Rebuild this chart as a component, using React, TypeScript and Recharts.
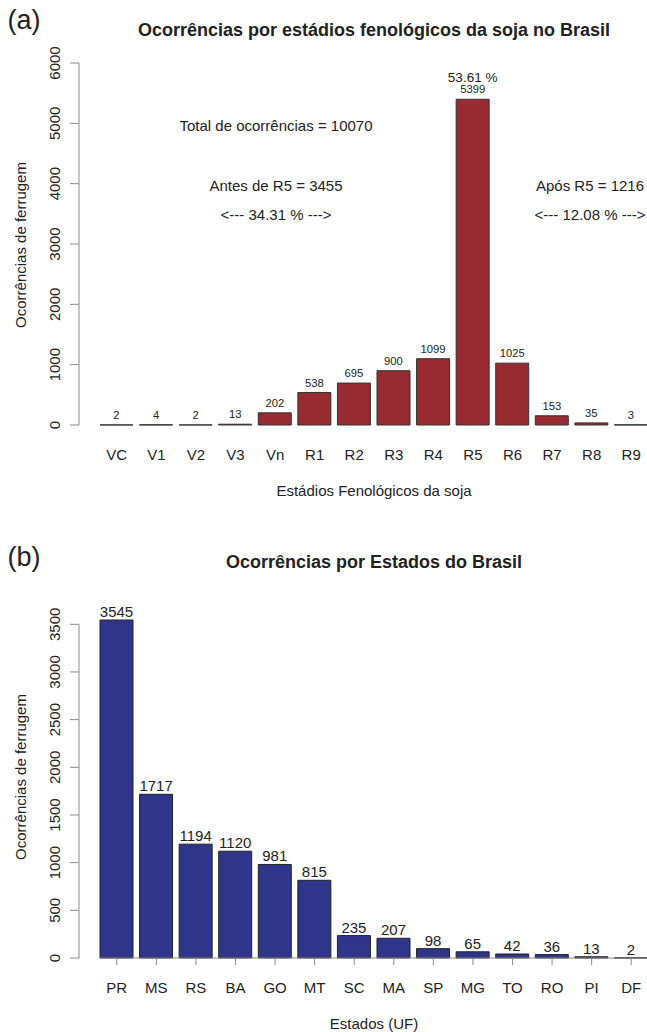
import React from "react";
import { BarChart, Bar, XAxis, YAxis, LabelList } from "recharts";

// (a) ocorrências por estádio fenológico
const STAGES = ["VC", "V1", "V2", "V3", "Vn", "R1", "R2", "R3", "R4", "R5", "R6", "R7", "R8", "R9"];
const STAGE_COUNTS = [2, 4, 2, 13, 202, 538, 695, 900, 1099, 5399, 1025, 153, 35, 3];
const STAGE_TICKS = [0, 1000, 2000, 3000, 4000, 5000, 6000];

// (b) ocorrências por estado
const STATES = ["PR", "MS", "RS", "BA", "GO", "MT", "SC", "MA", "SP", "MG", "TO", "RO", "PI", "DF"];
const STATE_COUNTS = [3545, 1717, 1194, 1120, 981, 815, 235, 207, 98, 65, 42, 36, 13, 2];
const STATE_TICKS = [0, 500, 1000, 1500, 2000, 2500, 3000, 3500];

const RED = "#982a31";
const BLUE = "#2f358b";
const AXIS = "#8a8a8a";
const INK = "#222";
const FONT = "'Liberation Sans', Arial, Helvetica, sans-serif";

const stageData = STAGES.map((name, i) => ({ name, value: STAGE_COUNTS[i] }));
const stateData = STATES.map((name, i) => ({ name, value: STATE_COUNTS[i] }));

const sum = (a: number[]) => a.reduce((s, v) => s + v, 0);
const total = sum(STAGE_COUNTS);
const peak = STAGE_COUNTS.indexOf(Math.max(...STAGE_COUNTS));
const before = sum(STAGE_COUNTS.slice(0, peak));
const after = sum(STAGE_COUNTS.slice(peak + 1));
const pct = (v: number) => ((v / total) * 100).toFixed(2);

function YTick({ x, y, payload }: any) {
  return (
    <text
      transform={`translate(${x - 9.6},${y}) rotate(-90)`}
      textAnchor="middle"
      fontSize={15}
      fill={INK}
      fontFamily={FONT}
    >
      {payload.value}
    </text>
  );
}

const makeXTick = (dy: number) =>
  function XTick({ x, y, payload }: any) {
    return (
      <text x={x} y={y + dy} textAnchor="middle" fontSize={15} fill={INK} fontFamily={FONT}>
        {payload.value}
      </text>
    );
  };

function StageLabel({ x, y, width, value, index }: any) {
  const cx = x + width / 2;
  return (
    <g>
      <text x={cx} y={y - 6} textAnchor="middle" fontSize={11.25} fill={INK} fontFamily={FONT}>
        {value}
      </text>
      {index === peak && (
        <text x={cx} y={y - 17} textAnchor="middle" fontSize={13.5} fill={INK} fontFamily={FONT}>
          {`${pct(STAGE_COUNTS[peak])} %`}
        </text>
      )}
    </g>
  );
}

function StateLabel({ x, y, width, value }: any) {
  return (
    <text x={x + width / 2} y={y - 3} textAnchor="middle" fontSize={15} fill={INK} fontFamily={FONT}>
      {value}
    </text>
  );
}

function Txt({ x, y, size = 15, bold = false, rotate = false, children }: any) {
  return (
    <div
      style={{
        position: "absolute",
        left: x,
        top: y,
        transform: `translate(-50%, -50%)${rotate ? " rotate(-90deg)" : ""}`,
        fontSize: size,
        fontWeight: bold ? 700 : 400,
        lineHeight: 1,
        whiteSpace: "nowrap",
        color: INK,
      }}
    >
      {children}
    </div>
  );
}

export default function App() {
  return (
    <div
      style={{
        position: "absolute",
        left: 0,
        top: 0,
        width: 647,
        height: 1032,
        overflow: "hidden",
        background: "#fff",
        fontFamily: FONT,
      }}
    >
      <div style={{ position: "absolute", left: 0, top: 0 }}>
        <BarChart width={651} height={520} data={stageData} margin={{ top: 63, right: 0, bottom: 0, left: 0 }}>
          <XAxis
            dataKey="name"
            interval={0}
            axisLine={false}
            tickLine={false}
            tickSize={0}
            tickMargin={0}
            height={95}
            padding={{ left: 18, right: 0 }}
            tick={makeXTick(35.4)}
          />
          <YAxis
            width={79}
            domain={[0, 6000]}
            ticks={STAGE_TICKS}
            interval={0}
            axisLine={{ stroke: AXIS }}
            tickLine={{ stroke: AXIS }}
            tickSize={9}
            tickMargin={0}
            tick={<YTick />}
          />
          <Bar dataKey="value" fill={RED} stroke="#333" strokeWidth={1} barSize={33} isAnimationActive={false}>
            <LabelList dataKey="value" content={<StageLabel />} />
          </Bar>
        </BarChart>
      </div>

      <div style={{ position: "absolute", left: 0, top: 520 }}>
        <BarChart width={651} height={512} data={stateData} margin={{ top: 100, right: 0, bottom: 0, left: 0 }}>
          <XAxis
            dataKey="name"
            interval={0}
            axisLine={{ stroke: AXIS, strokeDasharray: "0 21 2000" }}
            tickLine={{ stroke: AXIS }}
            tickSize={7}
            tickMargin={0}
            height={74}
            padding={{ left: 18, right: 0 }}
            tick={makeXTick(28.4)}
          />
          <YAxis
            width={79}
            domain={[0, 3545]}
            ticks={STATE_TICKS}
            interval={0}
            axisLine={{ stroke: AXIS, strokeDasharray: "0 4.3 2000" }}
            tickLine={{ stroke: AXIS }}
            tickSize={9}
            tickMargin={0}
            tick={<YTick />}
          />
          <Bar dataKey="value" fill={BLUE} stroke="#222" strokeWidth={1} barSize={33} isAnimationActive={false}>
            <LabelList dataKey="value" content={<StateLabel />} />
          </Bar>
        </BarChart>
      </div>

      <Txt x={24} y={20} size={27}>(a)</Txt>
      <Txt x={374} y={30} size={18} bold>Ocorrências por estádios fenológicos da soja no Brasil</Txt>
      <Txt x={20} y={245} rotate>Ocorrências de ferrugem</Txt>
      <Txt x={374} y={490}>Estádios Fenológicos da soja</Txt>
      <Txt x={276} y={125}>{`Total de ocorrências = ${total}`}</Txt>
      <Txt x={276} y={185}>{`Antes de R5 = ${before}`}</Txt>
      <Txt x={276} y={214}>{`<--- ${pct(before)} % --->`}</Txt>
      <Txt x={590} y={185}>{`Após R5 = ${after}`}</Txt>
      <Txt x={590} y={214}>{`<--- ${pct(after)} % --->`}</Txt>

      <Txt x={24} y={557} size={27}>(b)</Txt>
      <Txt x={374} y={562} size={18} bold>Ocorrências por Estados do Brasil</Txt>
      <Txt x={20} y={777} rotate>Ocorrências de ferrugem</Txt>
      <Txt x={374} y={1023}>Estados (UF)</Txt>
    </div>
  );
}
